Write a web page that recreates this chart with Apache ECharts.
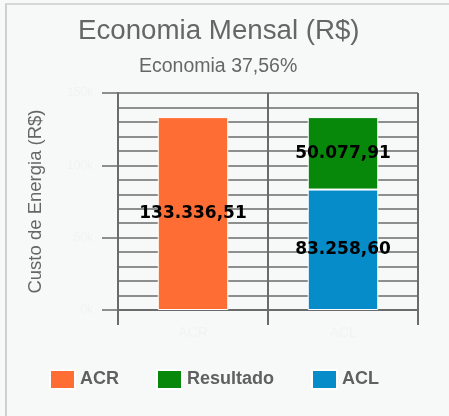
<!DOCTYPE html>
<html>
<head>
<meta charset="utf-8">
<script src="https://cdn.jsdelivr.net/npm/echarts@6/dist/echarts.min.js"></script>
<style>
html,body{margin:0;padding:0;background:#f7f9f8;}
#chart{position:absolute;left:0;top:0;width:449px;height:416px;}
#frame{position:absolute;left:5px;top:3px;width:444px;height:413px;border-left:2px solid #cfcfcf;border-top:2px solid #d8d8d8;pointer-events:none;}
</style>
</head>
<body>
<div id="chart"></div>
<div id="frame"></div>
<script>
const titleText = 'Economia Mensal (R$)';
const subtitleText = 'Economia 37,56%';
const yAxisName = 'Custo de Energia (R$)';
const categories = ['ACR', 'ACL'];
const acrValues = [133336.51, '-'];
const aclValues = ['-', 83258.60];
const resultadoValues = ['-', 50077.91];
const legendItems = ['ACR', 'Resultado', 'ACL'];
const yMin = 0, yMax = 150000, yInterval = 50000;

function fmtBR(v) {
  const parts = Number(v).toFixed(2).split('.');
  const intPart = parts[0].replace(/\B(?=(\d{3})+(?!\d))/g, '.');
  return intPart + ',' + parts[1];
}

const labelStyle = {
  show: true,
  position: 'inside',
  color: '#000',
  fontWeight: 'bold',
  fontSize: 17,
  fontFamily: 'DejaVu Sans',
  formatter: p => fmtBR(p.value)
};

const chart = echarts.init(document.getElementById('chart'), null, {renderer: 'canvas'});
chart.setOption({
  backgroundColor: '#f7f9f8',
  animation: false,
  title: [
    {text: titleText, left: 73, top: 12,
     textStyle: {fontFamily: 'Liberation Sans', fontSize: 27.7, fontWeight: 'normal', color: '#666'}},
    {text: subtitleText, left: 134, top: 52,
     textStyle: {fontFamily: 'Liberation Sans', fontSize: 19.5, fontWeight: 'normal', color: '#666'}}
  ],
  legend: {
    data: legendItems,
    bottom: 21,
    left: 44,
    itemWidth: 25,
    itemHeight: 19,
    itemGap: 37,
    icon: 'rect',
    textStyle: {fontFamily: 'Liberation Sans', fontSize: 18, fontWeight: 'bold', color: '#606060'}
  },
  grid: {left: 118, right: 31, top: 93, bottom: 106},
  xAxis: {
    type: 'category',
    data: categories,
    boundaryGap: true,
    axisLine: {show: true, lineStyle: {color: '#6b6b6b', width: 2}},
    axisTick: {show: true, length: 15, lineStyle: {color: '#6b6b6b', width: 2}},
    axisLabel: {show: true, color: '#f0f4f3', fontSize: 14, margin: 16, fontFamily: 'Liberation Sans'},
    splitLine: {show: true, lineStyle: {color: '#6b6b6b', width: 2}}
  },
  yAxis: {
    type: 'value',
    min: yMin, max: yMax, interval: yInterval,
    name: yAxisName,
    nameLocation: 'middle',
    nameGap: 73,
    nameTextStyle: {fontFamily: 'Liberation Sans', fontSize: 18.5, color: '#666'},
    axisLine: {show: true, lineStyle: {color: '#6b6b6b', width: 2}},
    axisTick: {show: true, length: 16, lineStyle: {color: '#6b6b6b', width: 1.5}},
    axisLabel: {show: true, color: '#eff3f2', fontSize: 12, margin: 25, fontFamily: 'Liberation Sans',
      formatter: v => (v / 1000) + 'k'},
    splitLine: {show: true, lineStyle: {color: '#6b6b6b', width: 1.5}},
    minorTick: {show: false, splitNumber: 5},
    minorSplitLine: {show: true, lineStyle: {color: '#6b6b6b', width: 1.5}}
  },
  series: [
    {name: 'ACR', type: 'bar', stack: 'total', data: acrValues, barWidth: '47%',
     itemStyle: {color: '#fe6d33', borderColor: '#ffffff', borderWidth: 1}, label: labelStyle},
    {name: 'ACL', type: 'bar', stack: 'total', data: aclValues, barWidth: '47%',
     itemStyle: {color: '#068dc9', borderColor: '#ffffff', borderWidth: 1}, label: labelStyle},
    {name: 'Resultado', type: 'bar', stack: 'total', data: resultadoValues, barWidth: '47%',
     itemStyle: {color: '#08880a', borderColor: '#ffffff', borderWidth: 1}, label: labelStyle}
  ]
});
</script>
</body>
</html>
